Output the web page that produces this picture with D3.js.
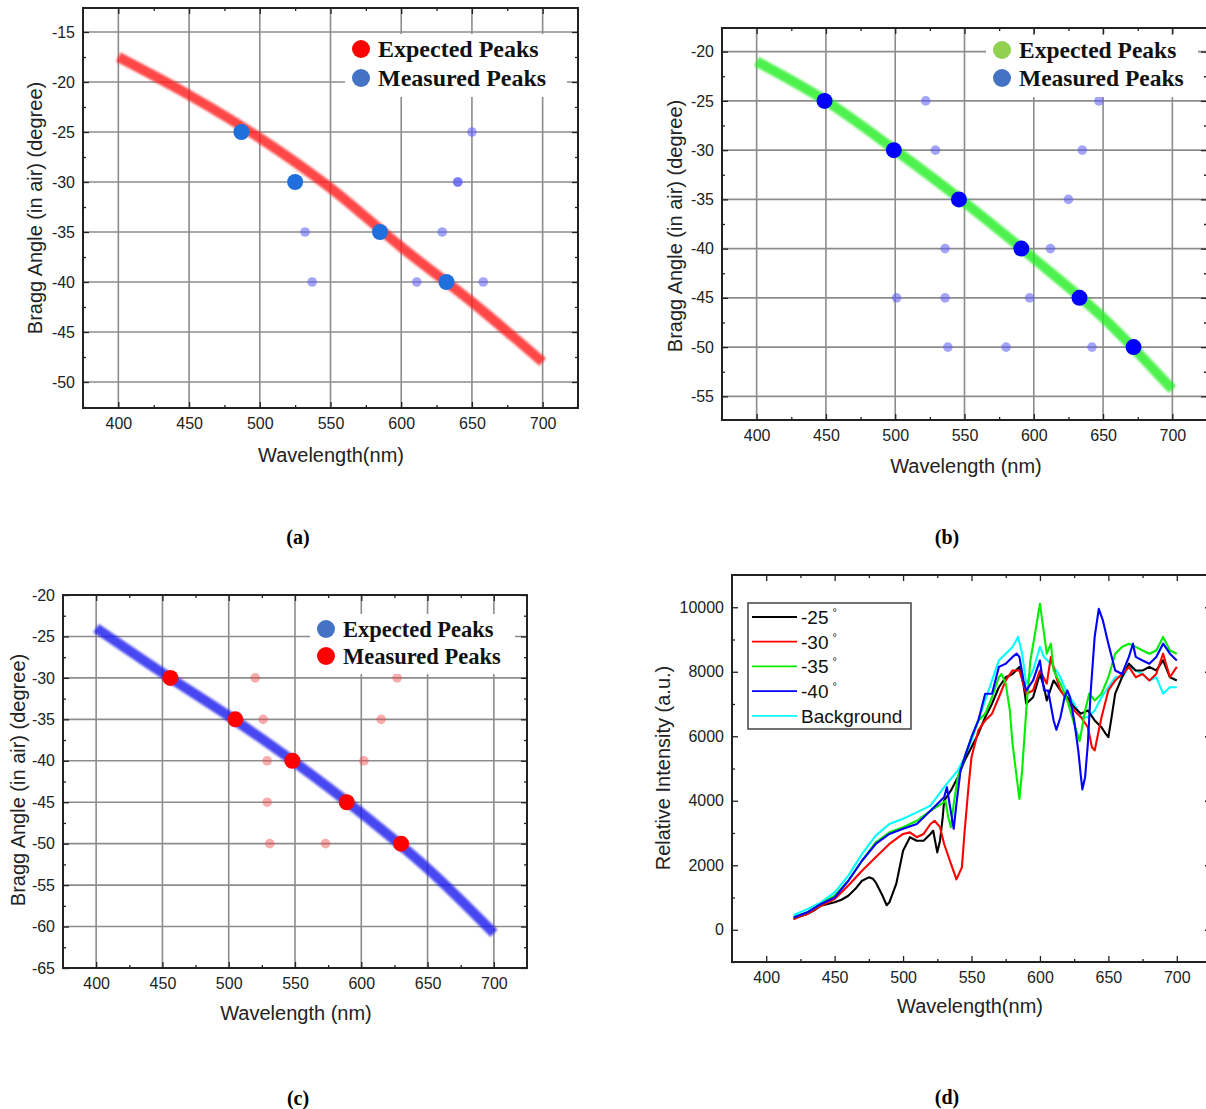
<!DOCTYPE html>
<meta charset="utf-8">
<style>
    body { margin: 0; background: #fff; }
    svg { display: block; background: #fff; }
    .tick text { font: 16px "Liberation Sans", Arial, sans-serif; fill: #222; }
    .tick line { stroke: #222; stroke-width: 1.3px; }
    .grid line { stroke: #8c8c8c; stroke-width: 1.6px; }
    .frame { fill: none; stroke: #222; stroke-width: 2px; }
    .title { font: 20px "Liberation Sans", Arial, sans-serif; fill: #222; }
    .leg { font-weight: bold; font-family: "Liberation Serif", "Times New Roman", serif; fill: #111; }
    .leg2 { font: 19px "Liberation Sans", Arial, sans-serif; fill: #111; }
    .cap { font: bold 20px "Liberation Serif", "Times New Roman", serif; fill: #000; }
</style>
<svg width="1206" height="1109"></svg>
<script src="https://d3js.org/d3.v7.min.js"></script>
<script>
// ---- data ----
var curveWl = [400, 450, 500, 550, 600, 650, 700];
var expectedA = [-17.5, -21.3, -25.6, -30.6, -36.5, -42.0, -48.0];
var expectedB = [-21.0, -25.0, -30.0, -35.3, -41.0, -47.0, -54.3];
var expectedC = [-24.0, -29.4, -34.6, -40.2, -46.3, -53.0, -60.8];

var measuredA = [[487, -25], [525, -30], [585, -35], [632, -40]];
var sideA = [[650, -25], [640, -30], [640, -30], [532, -35], [629, -35], [537, -40], [611, -40], [658, -40]];

var measuredB = [[449, -25], [499, -30], [546, -35], [591, -40], [633, -45], [672, -50]];
var sideB = [[522, -25], [647, -25], [529, -30], [635, -30], [625, -35], [536, -40], [612, -40],
    [501, -45], [536, -45], [597, -45], [538, -50], [580, -50], [642, -50]];

var measuredC = [[456, -30], [505, -35], [548, -40], [589, -45], [630, -50]];
var sideC = [[520, -30], [627, -30], [526, -35], [615, -35], [529, -40], [602, -40], [529, -45], [531, -50], [573, -50]];

var spec25 = [[420,330],[425,420],[430,490],[435,600],[440,745],[445,800],[450,850],[455,930],[460,1055],[465,1260],[470,1520],[475,1625],[478,1580],[480,1470],[485,1055],[488,760],[490,850],[495,1420],[500,2450],[505,2870],[510,2760],[515,2760],[520,2970],[522,3070],[525,2400],[527,2760],[529,3500],[530,4000],[535,4320],[540,4730],[545,5250],[550,5660],[555,6080],[560,6590],[565,7010],[570,7520],[575,7830],[580,7930],[585,8150],[588,7600],[590,7010],[595,7210],[600,7930],[603,7520],[605,7110],[610,7730],[615,7420],[620,7210],[625,6900],[630,6700],[635,6800],[640,6490],[645,6280],[648,6080],[650,5970],[652,6490],[655,7320],[660,7830],[665,8250],[670,8040],[675,8040],[680,8150],[685,8040],[690,8350],[695,7830],[700,7730]];
var spec30 = [[420,330],[425,420],[430,490],[440,745],[450,950],[460,1370],[470,1830],[480,2250],[490,2660],[500,2970],[505,3020],[510,2870],[515,2970],[520,3280],[523,3380],[527,3180],[530,2660],[535,2040],[539,1560],[543,1935],[545,3070],[548,4520],[550,5350],[555,6180],[560,6490],[565,6700],[570,7210],[575,7730],[580,8040],[585,8040],[590,7320],[595,7420],[600,8040],[605,7630],[608,8460],[612,7830],[615,7420],[620,7110],[625,6800],[630,6590],[635,6280],[638,5660],[640,5560],[643,6180],[645,6590],[650,7420],[655,7730],[660,7930],[665,8150],[670,7830],[675,7930],[680,7730],[685,7930],[690,8560],[695,7830],[700,8150]];
var spec35 = [[420,380],[430,540],[440,800],[450,1055],[460,1520],[470,2140],[480,2710],[490,3020],[500,3180],[510,3380],[520,3690],[528,3900],[531,4000],[533,3490],[535,3180],[537,3900],[540,4730],[545,5350],[550,5970],[555,6490],[560,6700],[565,7210],[570,7830],[572,7930],[575,7630],[578,6800],[580,5760],[583,4730],[585,4060],[587,4940],[590,6800],[593,8350],[596,9080],[600,10110],[603,9180],[605,8560],[608,8870],[610,8040],[615,7630],[620,7110],[625,6390],[629,5850],[630,6080],[633,6800],[636,7320],[640,7110],[645,7320],[650,7830],[655,8560],[660,8770],[665,8870],[670,8770],[675,8660],[680,8560],[685,8660],[690,9080],[695,8660],[700,8560]];
var spec40 = [[420,380],[430,540],[440,800],[450,1000],[460,1520],[470,2140],[480,2660],[490,2970],[500,3130],[510,3280],[520,3690],[525,3900],[530,4110],[532,4420],[534,3900],[537,3130],[539,3900],[542,4940],[545,5350],[550,5970],[555,6490],[560,7320],[565,7320],[570,8150],[575,8250],[580,8460],[583,8560],[585,8460],[588,7730],[590,7420],[595,7730],[600,8350],[603,7420],[606,7420],[610,6490],[612,6200],[615,6590],[618,7210],[620,7420],[622,7210],[625,6490],[628,5560],[630,4730],[631,4350],[633,4730],[635,5760],[637,7320],[640,9080],[643,9950],[646,9590],[650,8870],[655,8040],[660,7930],[665,8460],[668,8870],[670,8460],[675,8350],[680,8250],[685,8460],[690,8870],[695,8560],[700,8350]];
var specBg = [[420,455],[430,640],[440,850],[450,1160],[460,1680],[470,2350],[480,2920],[490,3280],[500,3440],[510,3640],[520,3850],[530,4420],[540,4940],[545,5350],[550,5870],[555,6490],[560,7110],[565,7730],[570,8350],[575,8560],[580,8770],[584,9080],[587,8560],[590,7630],[595,8040],[600,8770],[603,8460],[608,8250],[612,8040],[615,7830],[620,7320],[625,7010],[630,6590],[635,6590],[640,6800],[645,7210],[650,7520],[655,7830],[660,7830],[665,8150],[670,8040],[675,7930],[680,7730],[685,7830],[690,7320],[695,7520],[700,7520]];

var legendD = [
    {label: "-25", color: "#000000", data: spec25},
    {label: "-30", color: "#ff0000", data: spec30},
    {label: "-35", color: "#00ee00", data: spec35},
    {label: "-40", color: "#0000ff", data: spec40},
    {label: "Background", color: "#00ffff", data: specBg}
];

var xMajor = [400, 450, 500, 550, 600, 650, 700];
var xMinor = [425, 475, 525, 575, 625, 675];

// plain hyphen minus, like the original figure
var fmt = function(d) { return String(d); };

var svg = d3.select("svg");
svg.append("defs").append("filter")
    .attr("id", "soft")
    .attr("x", "-10%").attr("y", "-10%").attr("width", "120%").attr("height", "120%")
    .append("feGaussianBlur").attr("stdDeviation", 1.3);

function frameTicks(g, x, y, yMajor, yMinor) {
    var x0 = x.range()[0], x1 = x.range()[1], y0 = y.range()[0], y1 = y.range()[1];
    g.append("g").attr("transform", "translate(0," + y0 + ")")
        .call(d3.axisBottom(x).tickValues(xMajor).tickSize(-6).tickPadding(10).tickFormat(fmt));
    g.append("g").attr("transform", "translate(0," + y0 + ")")
        .call(d3.axisBottom(x).tickValues(xMinor).tickSize(-3).tickFormat(""));
    g.append("g").attr("transform", "translate(0," + y1 + ")")
        .call(d3.axisTop(x).tickValues(xMajor).tickSize(-6).tickFormat(""));
    g.append("g").attr("transform", "translate(0," + y1 + ")")
        .call(d3.axisTop(x).tickValues(xMinor).tickSize(-3).tickFormat(""));
    g.append("g").attr("transform", "translate(" + x0 + ",0)")
        .call(d3.axisLeft(y).tickValues(yMajor).tickSize(-6).tickPadding(8).tickFormat(fmt));
    g.append("g").attr("transform", "translate(" + x0 + ",0)")
        .call(d3.axisLeft(y).tickValues(yMinor).tickSize(-3).tickFormat(""));
    g.append("g").attr("transform", "translate(" + x1 + ",0)")
        .call(d3.axisRight(y).tickValues(yMajor).tickSize(-6).tickFormat(""));
    g.append("g").attr("transform", "translate(" + x1 + ",0)")
        .call(d3.axisRight(y).tickValues(yMinor).tickSize(-3).tickFormat(""));
    g.selectAll(".domain").remove();
    g.append("rect").attr("class", "frame")
        .attr("x", x0).attr("y", y1).attr("width", x1 - x0).attr("height", y0 - y1);
}

function braggPanel(p) {
    var g = svg.append("g");
    var x = d3.scaleLinear().domain([375, 725]).range(p.xr);
    var y = d3.scaleLinear().domain(p.yd).range(p.yr);
    var yMajor = d3.range(p.yTop, p.yBottom - 0.1, -5);
    var yMinor = d3.range(p.yTop - 2.5, p.yd[0], -5);

    var grid = g.append("g").attr("class", "grid");
    grid.selectAll(".gx").data(xMajor).enter().append("line")
        .attr("x1", x).attr("x2", x).attr("y1", p.yr[0]).attr("y2", p.yr[1]);
    grid.selectAll(".gy").data(yMajor).enter().append("line")
        .attr("x1", p.xr[0]).attr("x2", p.xr[1]).attr("y1", y).attr("y2", y);

    var line = d3.line().curve(d3.curveMonotoneX)
        .x(function(d, i) { return x(curveWl[i]); })
        .y(function(d) { return y(d); });
    g.append("path").datum(p.expected)
        .attr("d", line)
        .attr("fill", "none")
        .attr("stroke", p.bandColor)
        .attr("stroke-opacity", 0.8)
        .attr("stroke-width", 10)
        .attr("filter", "url(#soft)");

    g.selectAll(".side").data(p.side).enter().append("circle")
        .attr("cx", function(d) { return x(d[0]); })
        .attr("cy", function(d) { return y(d[1]); })
        .attr("r", 4.8)
        .attr("fill", p.sideColor);
    g.selectAll(".meas").data(p.measured).enter().append("circle")
        .attr("cx", function(d) { return x(d[0]); })
        .attr("cy", function(d) { return y(d[1]); })
        .attr("r", 8)
        .attr("fill", p.measColor);

    // legend
    var L = p.legend;
    g.append("rect").attr("x", L.x).attr("y", L.y).attr("width", L.w).attr("height", L.h).attr("fill", "#fff");
    L.items.forEach(function(it, i) {
        g.append("circle").attr("cx", L.x + 16).attr("cy", L.y + 15 + i * L.dy).attr("r", 9).attr("fill", it[1]);
        g.append("text").attr("class", "leg").style("font-size", L.fs + "px")
            .attr("x", L.x + 33).attr("y", L.y + 23 + i * L.dy).text(it[0]);
    });

    frameTicks(g, x, y, yMajor, yMinor);

    g.append("text").attr("class", "title").attr("text-anchor", "middle")
        .attr("x", p.xTitle[0]).attr("y", p.xTitle[1]).text(p.xLabel);
    g.append("text").attr("class", "title").attr("text-anchor", "middle")
        .attr("transform", "translate(" + p.yTitle[0] + "," + p.yTitle[1] + ") rotate(-90)")
        .text("Bragg Angle (in air) (degree)");
    g.append("text").attr("class", "cap").attr("text-anchor", "middle")
        .attr("x", p.cap[0]).attr("y", p.cap[1]).text(p.capText);
}

braggPanel({
    xr: [83, 578], yd: [-52.6, -12.6], yr: [408, 8], yTop: -15, yBottom: -50,
    expected: expectedA, bandColor: "#ff1a1a",
    measured: measuredA, measColor: "#1f6fdc",
    side: sideA, sideColor: "rgba(90,90,245,0.55)",
    legend: {x: 345, y: 34, w: 222, h: 63, dy: 29, fs: 24, items: [["Expected Peaks", "#ff0000"], ["Measured Peaks", "#4472c4"]]},
    xLabel: "Wavelength(nm)", xTitle: [331, 462], yTitle: [42, 208],
    cap: [298, 544], capText: "(a)"
});

braggPanel({
    xr: [722, 1207], yd: [-57.4, -17.6], yr: [420, 28], yTop: -20, yBottom: -55,
    expected: expectedB, bandColor: "#22ee22",
    measured: measuredB, measColor: "#0000ff",
    side: sideB, sideColor: "rgba(90,90,245,0.55)",
    legend: {x: 986, y: 35, w: 212, h: 62, dy: 28, fs: 23.5, items: [["Expected Peaks", "#92d050"], ["Measured Peaks", "#4472c4"]]},
    xLabel: "Wavelength (nm)", xTitle: [966, 473], yTitle: [682, 226],
    cap: [947, 544], capText: "(b)"
});

braggPanel({
    xr: [63, 527], yd: [-65, -20], yr: [968, 595], yTop: -20, yBottom: -65,
    expected: expectedC, bandColor: "#1a1aee",
    measured: measuredC, measColor: "#ff0000",
    side: sideC, sideColor: "rgba(240,70,70,0.45)",
    legend: {x: 310, y: 614, w: 205, h: 60, dy: 27, fs: 22.5, items: [["Expected Peaks", "#4472c4"], ["Measured Peaks", "#ff0000"]]},
    xLabel: "Wavelength (nm)", xTitle: [296, 1020], yTitle: [25, 780],
    cap: [298, 1105], capText: "(c)"
});

// ---- panel (d) spectra ----
(function() {
    var g = svg.append("g");
    var x = d3.scaleLinear().domain([375, 725]).range([732, 1211]);
    var y = d3.scaleLinear().domain([-1000, 11000]).range([962, 575]);
    var line = d3.line()
        .x(function(d) { return x(d[0]); })
        .y(function(d) { return y(d[1]); });

    // background drawn first so the others sit above it as in the figure
    var order = [4, 0, 1, 2, 3];
    order.forEach(function(k) {
        g.append("path").datum(legendD[k].data)
            .attr("d", line)
            .attr("fill", "none")
            .attr("stroke", legendD[k].color)
            .attr("stroke-width", 2.1)
            .attr("stroke-linejoin", "round");
    });

    var yMajor = [0, 2000, 4000, 6000, 8000, 10000];
    var yMinor = [-1000, 1000, 3000, 5000, 7000, 9000];
    frameTicks(g, x, y, yMajor, yMinor);

    var lg = g.append("g");
    lg.append("rect").attr("x", 748).attr("y", 603).attr("width", 163).attr("height", 126)
        .attr("fill", "#fff").attr("stroke", "#444").attr("stroke-width", 1.5);
    legendD.forEach(function(s, i) {
        var cy = 617 + i * 24.7;
        lg.append("line").attr("x1", 752).attr("x2", 797).attr("y1", cy).attr("y2", cy)
            .attr("stroke", s.color).attr("stroke-width", 1.8);
        var t = lg.append("text").attr("class", "leg2").attr("x", 801).attr("y", cy + 7).text(s.label);
        if (s.label !== "Background") {
            t.append("tspan").attr("dx", 4).attr("dy", -8).style("font-size", "11px").text("°");
        }
    });

    g.append("text").attr("class", "title").attr("text-anchor", "middle")
        .attr("x", 970).attr("y", 1013).text("Wavelength(nm)");
    g.append("text").attr("class", "title").attr("text-anchor", "middle")
        .attr("transform", "translate(670,768) rotate(-90)")
        .text("Relative Intensity (a.u.)");
    g.append("text").attr("class", "cap").attr("text-anchor", "middle")
        .attr("x", 947).attr("y", 1104).text("(d)");
})();
</script>
